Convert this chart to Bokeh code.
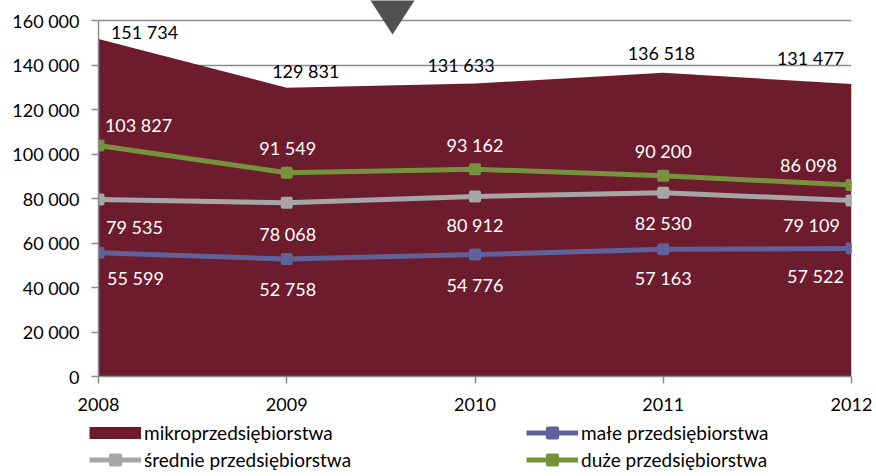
from bokeh.plotting import figure
from bokeh.layouts import column
from bokeh.models import (Range1d, FixedTicker, Legend, LegendItem, ColumnDataSource)
from bokeh.embed import file_html
from bokeh.resources import INLINE
from bokeh.core.properties import value

# ---------------- data ----------------
years = [2008, 2009, 2010, 2011, 2012]
mikro = [151734, 129831, 131633, 136518, 131477]
male = [55599, 52758, 54776, 57163, 57522]
srednie = [79535, 78068, 80912, 82530, 79109]
duze = [103827, 91549, 93162, 90200, 86098]

series_names = ["mikroprzedsiębiorstwa", "małe przedsiębiorstwa",
                "średnie przedsiębiorstwa", "duże przedsiębiorstwa"]

y_ticks = [0, 20000, 40000, 60000, 80000, 100000, 120000, 140000, 160000]
y_tick_labels = ["0", "20 000", "40 000", "60 000", "80 000", "100 000",
                 "120 000", "140 000", "160 000"]
x_tick_labels = ["2008", "2009", "2010", "2011", "2012"]

# ---------------- styles / layout ----------------
MAROON = "#6D1C2D"
BLUE = "#60619A"
GRAY = "#A6A6A6"
GREEN = "#76923C"
AXIS = "#8C8C8C"
FONT = "Lato"
FS = "18px"
FS_LEGEND = "19px"

W = 876
H1, H2 = 419, 56
FRAME_H = 376            # frame height in px (0 .. y_end)
PX_PER_UNIT = 356 / 160000
y_end = FRAME_H / PX_PER_UNIT

# per-label pixel offsets (screen), as placed in the original chart
off_mikro = ([46, 19, -14, -2, -41], [-7, -17, -19, -20, -26])
off_duze = ([40, 1, 0, 0, -43], [-20, -25, -24, -25, -20])
off_srednie = ([36, 1, 0, 0, -40], [27, 31, 29, 30, 25])
off_male = ([37, 1, 0, 0, -36], [25, 30, 30, 29, 27])


def fmt(v):
    return f"{v:,}".replace(",", " ")


p = figure(width=W, height=H1, output_backend="svg", toolbar_location=None,
           x_range=Range1d(2008, 2012), y_range=Range1d(0, y_end),
           min_border_left=98, min_border_right=25, min_border_top=0,
           min_border_bottom=H1 - FRAME_H)
p.outline_line_color = None
p.background_fill_color = "white"
p.border_fill_color = "white"

# axes
p.xaxis.ticker = FixedTicker(ticks=years)
p.xaxis.major_label_overrides = {y: l for y, l in zip(years, x_tick_labels)}
p.yaxis.ticker = FixedTicker(ticks=y_ticks)
p.yaxis.major_label_overrides = {t: l for t, l in zip(y_ticks, y_tick_labels)}
p.yaxis.bounds = (0, 160000)
for ax in (p.xaxis, p.yaxis):
    ax.axis_line_color = AXIS
    ax.axis_line_width = 1.5
    ax.major_tick_line_color = AXIS
    ax.major_tick_line_width = 1.5
    ax.major_tick_out = 7
    ax.major_tick_in = 0
    ax.minor_tick_line_color = None
    ax.major_label_text_font = FONT
    ax.major_label_text_font_size = FS
    ax.major_label_text_color = "black"
p.xaxis.major_label_standoff = 14
p.yaxis.major_label_standoff = 12

p.xgrid.grid_line_color = None
p.ygrid.grid_line_color = AXIS
p.ygrid.grid_line_width = 1.5

# area
p.varea(x=years, y1=0, y2=mikro, fill_color=MAROON)

# decorative dark triangle at the top (page pixel positions converted to data)
def px_to_x(px):
    return 2008 + (px - 98) / 753 * 4

def px_to_y(py):
    return (376 - py) / PX_PER_UNIT

p.patch(x=[px_to_x(357), px_to_x(427), px_to_x(392)],
        y=[px_to_y(-20), px_to_y(-20), px_to_y(34)],
        fill_color="#505050", line_color=None)

line_styles = [(series_names[1], male, BLUE),
               (series_names[2], srednie, GRAY),
               (series_names[3], duze, GREEN)]
for name, vals, color in line_styles:
    p.line(years, vals, line_color=color, line_width=5)
    p.scatter(years, vals, marker="square", size=8, fill_color=color,
              line_color=color, line_width=4, line_join="round")

# data labels
for vals, offs, color in [(mikro, off_mikro, "black"), (duze, off_duze, "white"),
                          (srednie, off_srednie, "white"), (male, off_male, "white")]:
    src = ColumnDataSource(dict(x=years, y=vals, t=[fmt(v) for v in vals],
                                dx=offs[0], dy=offs[1]))
    p.text(x="x", y="y", text="t", x_offset="dx", y_offset="dy", source=src,
           text_font=value(FONT), text_font_size=FS, text_color=color,
           text_align="center", text_baseline="middle")

# ---------------- legend strip (separate figure below) ----------------
lg = figure(width=W, height=H2, output_backend="svg", toolbar_location=None,
            x_range=Range1d(0, 1), y_range=Range1d(0, 1),
            x_axis_location=None, y_axis_location=None,
            min_border_left=0, min_border_right=0, min_border_top=0,
            min_border_bottom=0)
lg.frame_align = False
lg.outline_line_color = None
lg.grid.visible = False
lg.background_fill_color = "white"
lg.border_fill_color = "white"

# legend-only renderers: one point placed outside the visible range
OFF = [-10]
leg_renderers = {series_names[0]: [lg.line(x=OFF, y=OFF, line_color=MAROON,
                                           line_width=12, line_cap="butt")]}
for name, vals, color in line_styles:
    rl = lg.line(x=OFF, y=OFF, line_color=color, line_width=5)
    rs = lg.scatter(x=OFF, y=OFF, marker="square", size=8, fill_color=color,
                    line_color=color, line_width=4, line_join="round")
    leg_renderers[name] = [rl, rs]

leg_style = dict(orientation="vertical", glyph_width=52, glyph_height=23,
                 label_height=23, label_standoff=3, spacing=4, padding=0, margin=0,
                 border_line_color=None, background_fill_alpha=0,
                 label_text_font=FONT, label_text_font_size=FS_LEGEND,
                 label_text_color="black")
col1 = [series_names[0], series_names[2]]
col2 = [series_names[1], series_names[3]]
lg.add_layout(Legend(items=[LegendItem(label=n, renderers=leg_renderers[n]) for n in col1],
                     location=(89, 4), **leg_style))
lg.add_layout(Legend(items=[LegendItem(label=n, renderers=leg_renderers[n]) for n in col2],
                     location=(526, 4), **leg_style))

layout = column(p, lg, spacing=0)
open("out.html", "w").write(file_html(layout, INLINE))
